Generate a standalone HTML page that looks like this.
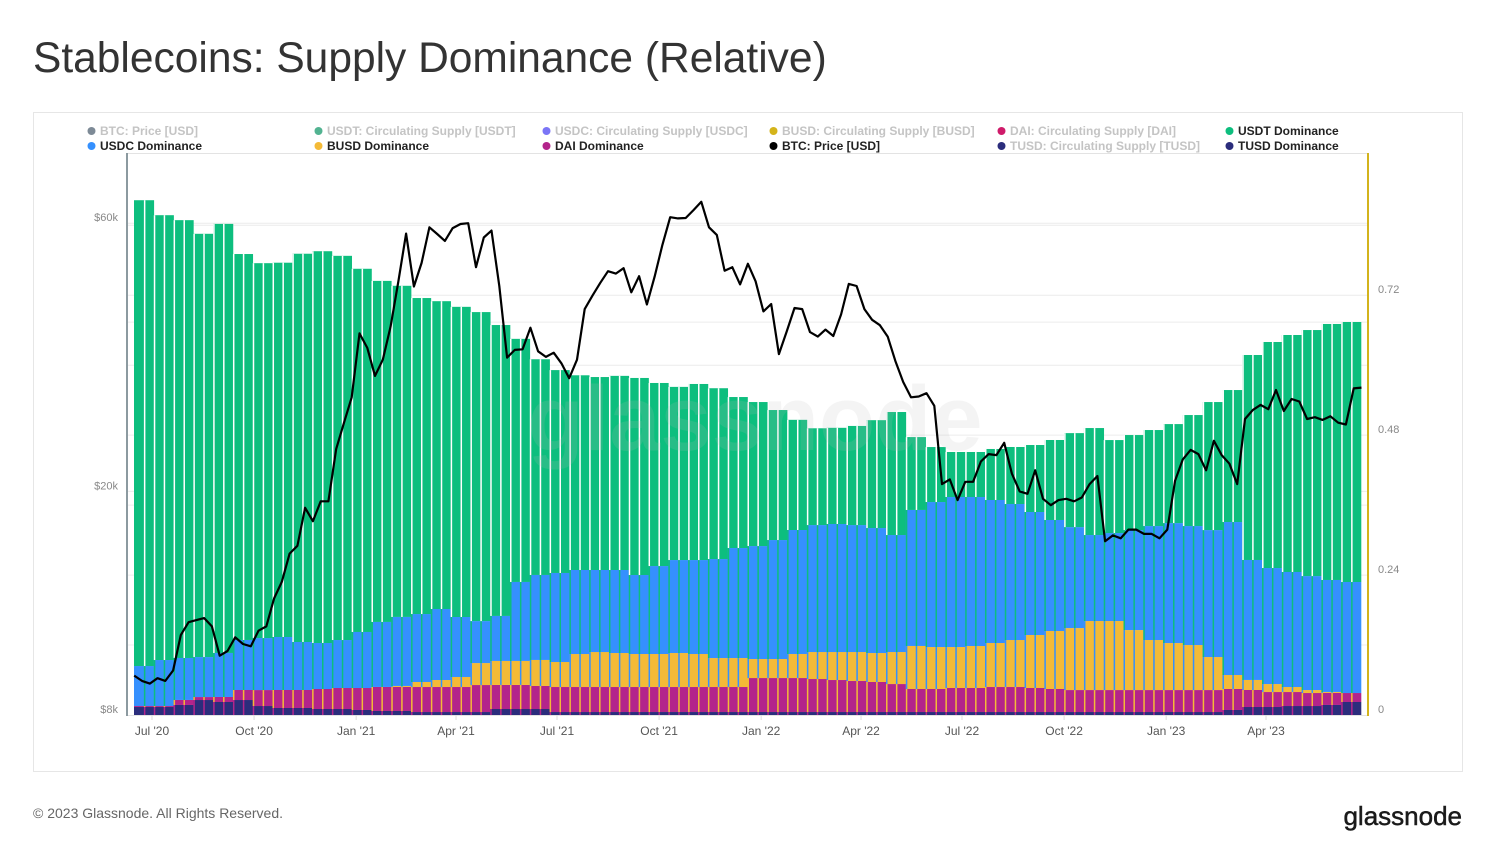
<!DOCTYPE html>
<html><head><meta charset="utf-8"><style>
body{margin:0;background:#fff;width:1495px;height:861px;overflow:hidden;font-family:"Liberation Sans",sans-serif;}
</style></head><body>
<svg id="chart" width="1495" height="861" xmlns="http://www.w3.org/2000/svg" font-family="Liberation Sans, sans-serif">
<text x="33" y="72" font-size="42.5" fill="#333">Stablecoins: Supply Dominance (Relative)</text>
<rect x="33.5" y="112.5" width="1429" height="659" fill="none" stroke="#e6e6e6"/>
<g id="grid"></g>
<g id="bars"></g>
<g id="gaps"></g>
<text x="755" y="450" font-size="92" font-weight="bold" text-anchor="middle" fill="#bbb" fill-opacity="0.16">glassnode</text>
<g id="line"></g>
<g id="axes"></g>
<g id="legend"></g>
<text x="33" y="818" font-size="14" fill="#666">© 2023 Glassnode. All Rights Reserved.</text>
<text x="1462" y="825" font-size="26" text-anchor="end" fill="#1a1a1a" stroke="#1a1a1a" stroke-width="0.5">glassnode</text>
</svg>
<script>
// dominance values in percent, per bar (≈18 days each, starting mid-Jun 2020)
const tusdDom=[1.37,1.37,1.72,2.57,2.23,2.57,1.54,1.20,1.20,1.03,1.03,0.86,0.69,0.69,0.51,0.51,0.51,0.51,1.03,1.03,1.03,0.51,0.51,0.51,0.51,0.51,0.51,0.51,0.51,0.51,0.51,0.51,0.51,0.51,0.51,0.51,0.51,0.51,0.51,0.51,0.51,0.51,0.51,0.51,0.51,0.51,0.51,0.51,0.51,0.51,0.51,0.51,0.51,0.51,0.51,0.86,1.37,1.37,1.54,1.54,1.72,2.23];
const daiDom=[0.17,0.17,0.86,0.51,0.86,1.72,2.74,3.09,3.09,3.43,3.60,3.77,4.12,4.12,4.29,4.29,4.29,4.63,4.12,4.12,3.95,4.29,4.29,4.29,4.29,4.29,4.29,4.29,4.29,4.29,4.29,5.83,5.83,5.83,5.66,5.49,5.32,5.15,4.80,3.95,3.95,4.12,4.12,4.29,4.29,4.12,3.95,3.77,3.77,3.77,3.77,3.77,3.77,3.77,3.77,3.60,2.92,2.57,2.40,2.23,2.06,1.54];
const busdDom=[0,0,0,0,0,0,0,0,0,0,0,0,0,0.17,0.86,1.20,1.72,3.77,4.12,4.12,4.46,4.29,5.66,6.00,5.83,5.66,5.66,5.83,5.66,4.97,4.97,3.26,3.26,4.12,4.63,4.80,4.97,4.97,5.49,7.38,7.20,7.03,7.20,7.55,8.06,9.09,9.95,10.63,11.84,11.84,10.29,8.58,8.06,7.72,5.66,2.40,1.72,1.37,0.86,0.51,0.17,0];
const usdcDom=[6.86,7.89,7.20,6.86,7.55,8.58,8.92,9.09,8.23,7.89,8.23,9.61,11.15,11.84,11.66,12.18,10.29,7.20,7.72,13.55,14.58,15.27,14.41,14.07,14.24,13.55,15.09,15.95,16.12,16.98,18.87,19.38,20.41,21.27,21.78,21.96,21.78,21.44,20.07,23.33,24.87,25.73,25.56,24.53,23.33,21.10,19.04,17.32,14.75,15.09,17.15,19.55,20.58,20.41,21.78,26.24,20.58,19.90,19.73,19.55,19.21,19.04];
const usdtDom=[79.9,76.3,75.1,72.6,73.6,66.2,64.3,64.2,66.6,67.2,65.9,62.3,58.5,56.8,54.2,52.8,53.2,53.0,49.9,41.7,37.0,34.8,33.4,33.1,33.3,33.8,31.4,29.7,30.2,29.3,25.9,24.7,22.3,18.9,16.6,16.5,17.0,18.5,21.1,12.5,9.43,7.72,7.72,8.75,9.78,11.49,13.72,16.12,18.35,15.95,16.30,16.47,16.98,19.04,21.96,22.64,35.16,38.77,40.65,42.20,43.91,44.60];
// BTC weekly price (USD thousands) starting 2020-06-15
const btcStart='2020-06-15';
const btcPrice=[9.4,9.2,9.1,9.3,9.2,9.6,11.1,11.7,11.8,11.9,11.5,10.2,10.4,11.0,10.7,10.6,11.3,11.5,12.9,13.8,15.5,16.0,18.7,17.7,19.2,19.2,23.8,26.5,29.4,
38.2,36.0,32.1,34.3,39.3,47.2,57.5,46.3,51.0,59.0,57.4,55.8,58.8,59.8,60.0,50.1,56.6,58.2,46.4,34.6,35.7,35.8,39.1,35.5,34.7,35.3,33.8,31.8,34.3,42.2,44.6,47.0,49.3,48.8,49.9,45.2,48.3,43.0,48.2,54.9,61.5,61.2,61.3,63.3,65.5,59.0,57.2,49.4,50.1,46.7,50.8,47.3,
41.8,43.1,35.1,38.5,42.4,42.2,38.4,37.7,38.8,37.8,41.3,46.8,46.4,42.2,40.4,39.5,37.7,34.1,31.3,29.4,29.5,29.9,28.4,20.6,21.0,19.3,20.8,20.8,22.6,23.3,23.2,24.4,21.5,20.0,19.8,21.8,19.4,18.9,19.3,19.4,19.2,19.5,20.6,21.3,16.3,16.7,16.5,17.1,17.1,16.8,16.8,16.5,
17.1,20.9,22.8,23.7,23.3,21.8,24.6,23.2,22.4,20.6,26.9,27.9,28.5,28.0,30.3,27.8,29.2,28.9,26.9,27.1,26.8,27.2,26.5,26.3,30.5,30.6];
const xTicks=['Jul \'20','Oct \'20','Jan \'21','Apr \'21','Jul \'21','Oct \'21','Jan \'22','Apr \'22','Jul \'22','Oct \'22','Jan \'23','Apr \'23'];
const xTickDates=['2020-07-01','2020-10-01','2021-01-01','2021-04-01','2021-07-01','2021-10-01','2022-01-01','2022-04-01','2022-07-01','2022-10-01','2023-01-01','2023-04-01'];
const leftTicks=[8,20,60];
const leftTickLabels=['$8k','$20k','$60k'];
const leftGrid=[20,40,60];
const rightTicks=[0,0.24,0.48,0.72];
const rightGrid=[0.12,0.24,0.36,0.48,0.6,0.72,0.84];

const NS='http://www.w3.org/2000/svg';
const X0=134,X1=1361,BASE=715,TOP=153;
const N=usdtDom.length;
const xBar=i=>X0+(X1-X0)*i/N;
const yR=v=>BASE-v*583;
const yL=p=>BASE-562*Math.log10(p/8);
const DAY=86400000, ORIGIN=Date.parse('2020-07-01');
const xDate=d=>152+(Date.parse(d)-ORIGIN)/DAY*1.1096;
function mk(tag,attrs,parent){const e=document.createElementNS(NS,tag);for(const k in attrs)e.setAttribute(k,attrs[k]);parent.appendChild(e);return e;}

const grid=document.getElementById('grid');
for(const v of rightGrid){const l=mk('line',{x1:127,x2:1368,y1:yR(v),y2:yR(v),stroke:'#ececec','stroke-width':1},grid);

}
for(const p of leftGrid){const l=mk('line',{x1:127,x2:1368,y1:yL(p),y2:yL(p),stroke:'#ececec','stroke-width':1},grid);

}

const layers=[['tusd',tusdDom,'#2b2d7c'],['dai',daiDom,'#b3248b'],['busd',busdDom,'#f4ba37'],['usdc',usdcDom,'#3590fe'],['usdt',usdtDom,'#0dbe7e']];
const bars=document.getElementById('bars'), gaps=document.getElementById('gaps');
for(let i=0;i<N;i++){
  let cum=0;const x=xBar(i),w=xBar(i+1)-x+0.3;const segs=[];
  for(const [nm,arr,col] of layers){const v=arr[i]/100;const y0=yR(cum),y1=yR(cum+v);segs.push([y1,y0]);
    if(v>0){const r=mk('rect',{x:x,y:y1,width:w,height:y0-y1,fill:col},bars);
    
    }
    cum+=v;}
  for(const gx of [x, x+(xBar(i+1)-x)/2]){
    if(i===0&&gx===x)continue;
    for(let k=0;k<layers.length;k++){const [y1,y0]=segs[k];if(y0-y1<=0)continue;
      const col=k+1<layers.length?layers[k+1][2]:'#ffffff';
      const g=mk('rect',{x:gx,y:y1,width:1.5,height:y0-y1,fill:col},gaps);
      
      }
  }
}

const lineG=document.getElementById('line');
const t0=Date.parse(btcStart);
const pts=btcPrice.map((p,i)=>{const d=new Date(t0+i*7*DAY).toISOString().slice(0,10);return xDate(d).toFixed(1)+','+yL(p).toFixed(1);});
const pl=mk('polyline',{points:pts.join(' '),fill:'none',stroke:'#000','stroke-width':2.2,'stroke-linejoin':'round'},lineG);



const axes=document.getElementById('axes');
mk('line',{x1:127,x2:1368,y1:153.5,y2:153.5,stroke:'#e3e3e3'},axes);
mk('line',{x1:127,x2:1368,y1:BASE+0.5,y2:BASE+0.5,stroke:'#e3e3e3'},axes);
const la=mk('line',{x1:127,x2:127,y1:153,y2:716,stroke:'#8c9aa0','stroke-width':2},axes);


const ra=mk('line',{x1:1368,x2:1368,y1:153,y2:716,stroke:'#d3b31c','stroke-width':2},axes);


leftTicks.forEach((p,i)=>{const t=mk('text',{x:118,y:yL(p)-2,'font-size':11,fill:'#888','text-anchor':'end'},axes);t.textContent=leftTickLabels[i];

});
rightTicks.forEach(v=>{const t=mk('text',{x:1378,y:yR(v)-2,'font-size':11,fill:'#888'},axes);t.textContent=String(v);

});
xTicks.forEach((lab,i)=>{const x=xDate(xTickDates[i]);mk('line',{x1:x,x2:x,y1:BASE,y2:BASE+5,stroke:'#ddd'},axes);
const t=mk('text',{x:x,y:735,'font-size':12,fill:'#555','text-anchor':'middle'},axes);t.textContent=lab;

});

const legendItems=[
['BTC: Price [USD]','#7d8a96',88,131,true],['USDT: Circulating Supply [USDT]','#52b391',315,131,true],['USDC: Circulating Supply [USDC]','#7b75f6',543,131,true],['BUSD: Circulating Supply [BUSD]','#d4b41a',770,131,true],['DAI: Circulating Supply [DAI]','#cf1b6a',998,131,true],['USDT Dominance','#0dbe7e',1226,131,false],
['USDC Dominance','#3590fe',88,146,false],['BUSD Dominance','#f4ba37',315,146,false],['DAI Dominance','#b3248b',543,146,false],['BTC: Price [USD]','#000000',770,146,false],['TUSD: Circulating Supply [TUSD]','#2b2d7c',998,146,true],['TUSD Dominance','#2b2d7c',1226,146,false]];
const leg=document.getElementById('legend');
for(const [lab,col,x,y,off] of legendItems){
  const g=mk('g',{},leg);
  
  
  mk('circle',{cx:x+3.5,cy:y,r:4,fill:col},g);
  const t=mk('text',{x:x+12,y:y+4,'font-size':12,'font-weight':'bold',fill:off?'#c4c4c4':'#222'},g);t.textContent=lab;
}
</script>
</body></html>
